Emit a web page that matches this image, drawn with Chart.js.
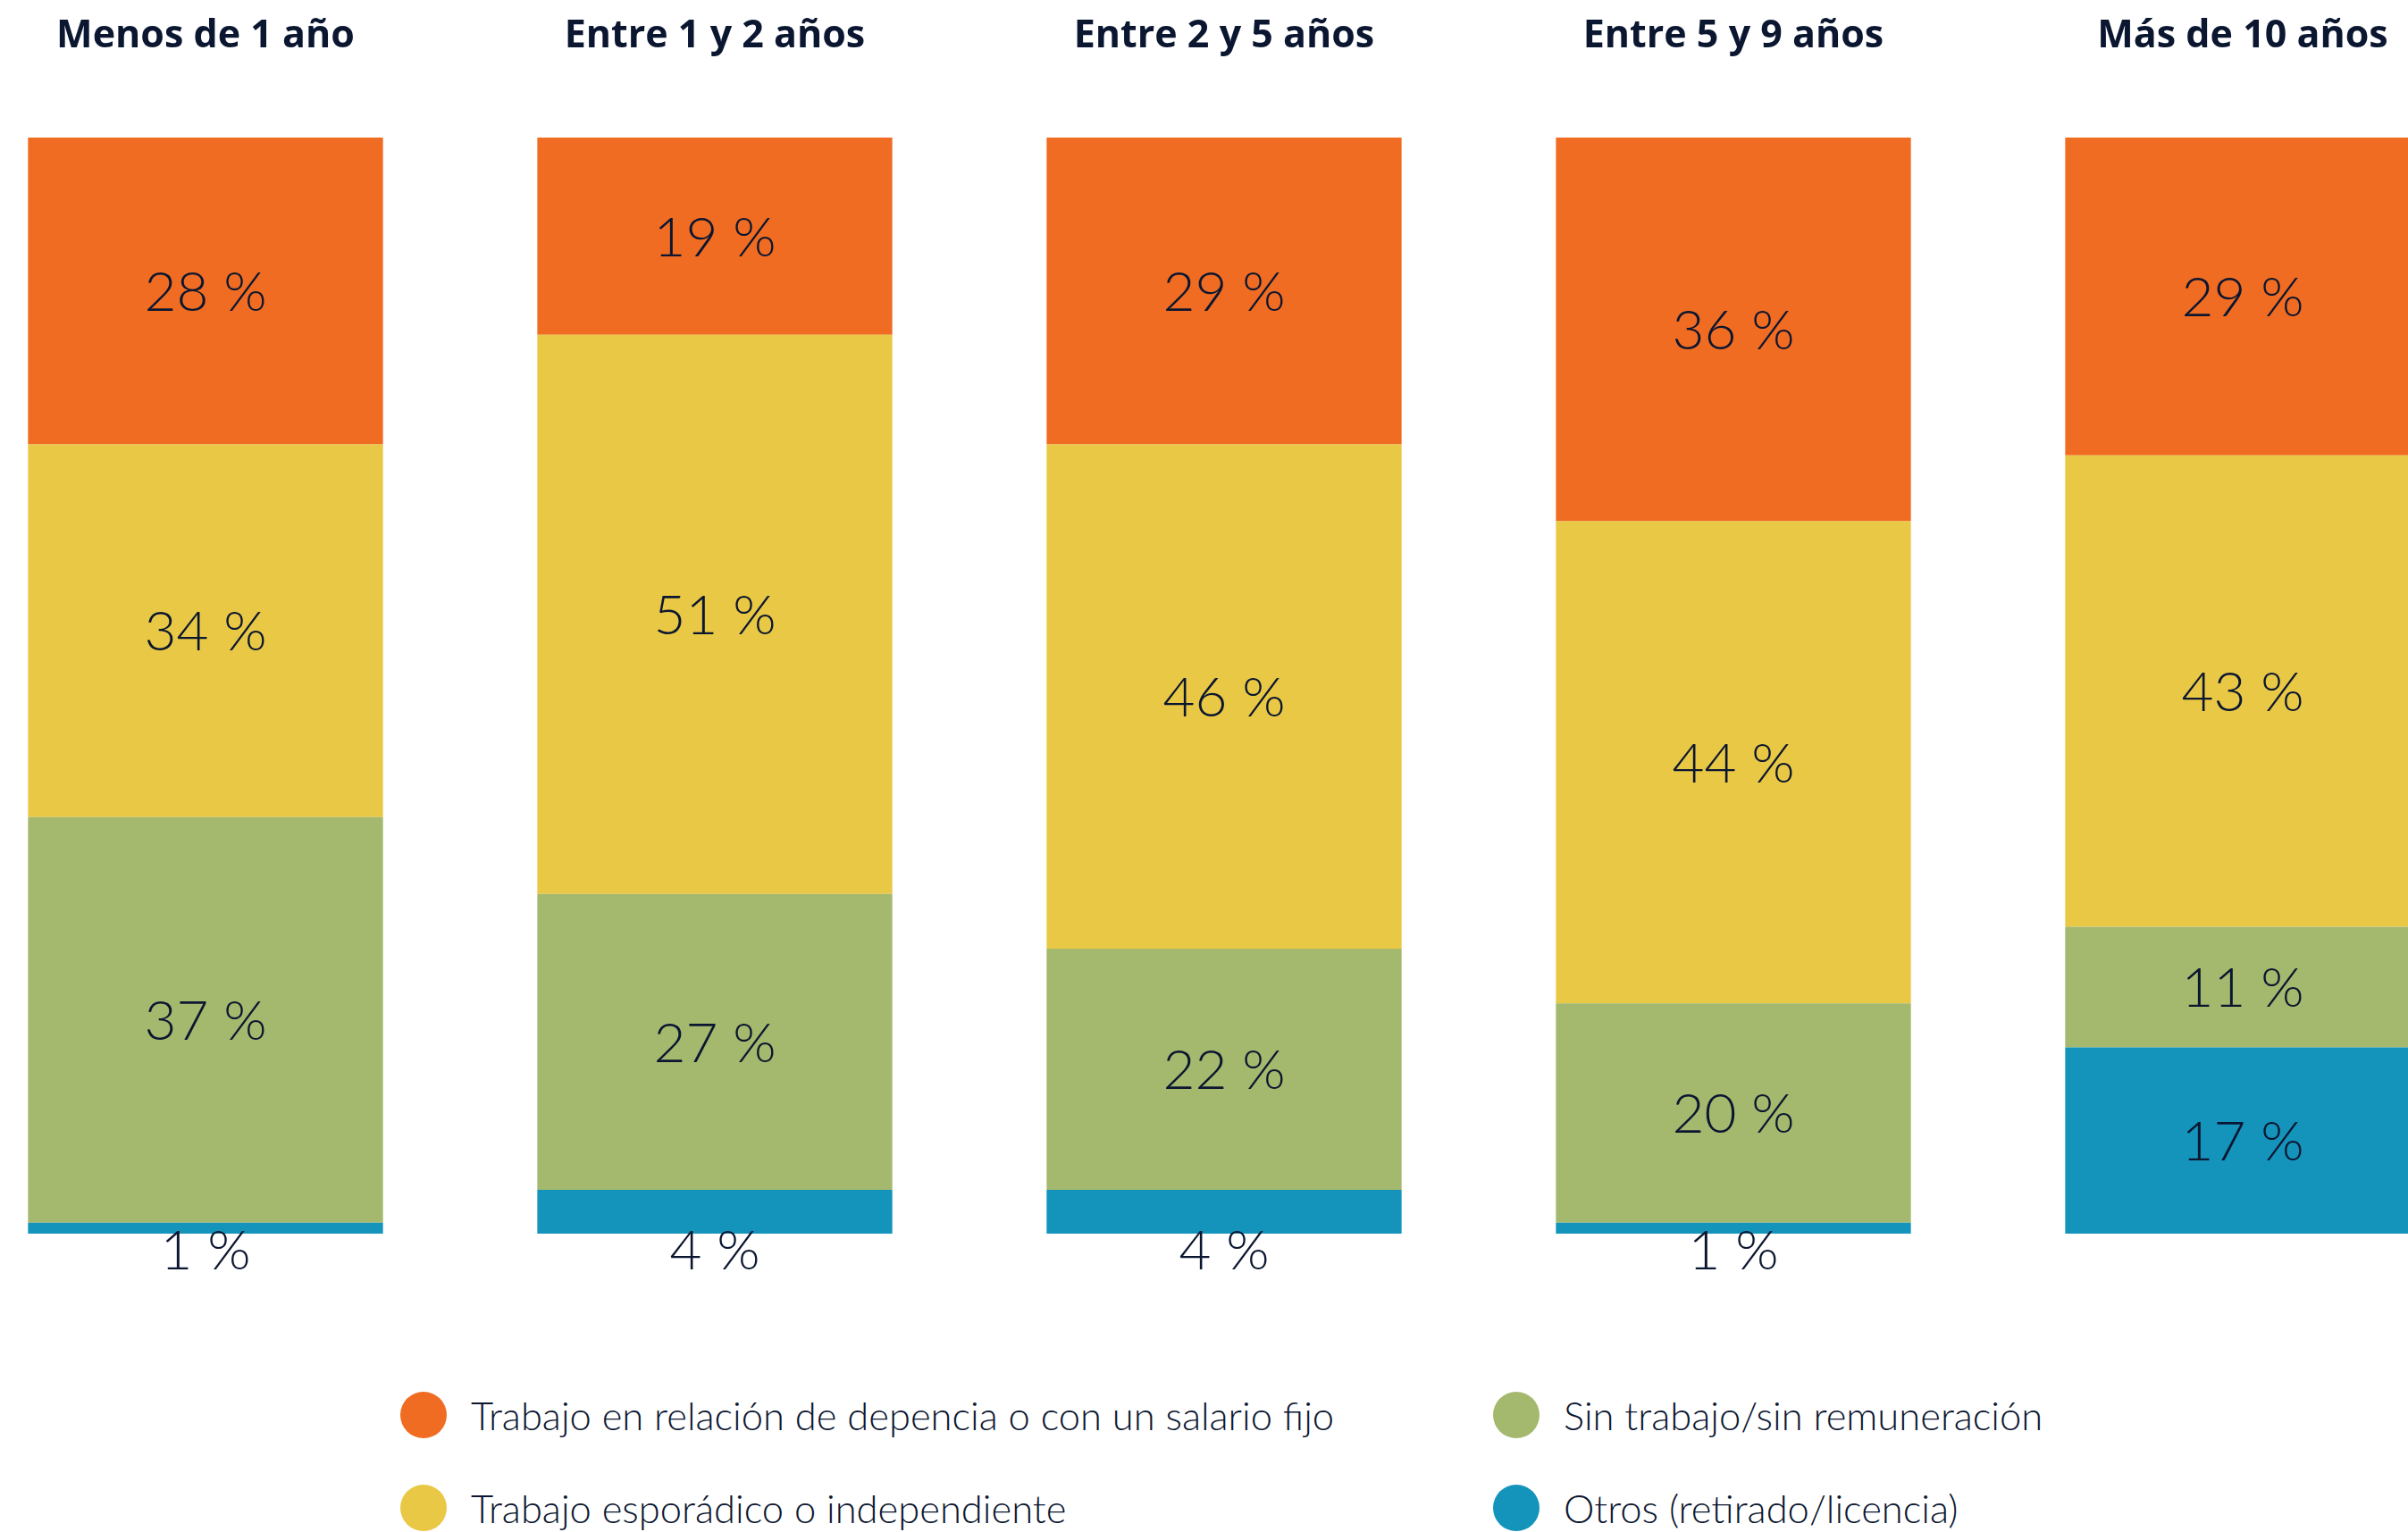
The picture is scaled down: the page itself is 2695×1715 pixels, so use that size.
<!DOCTYPE html>
<html>
<head>
<meta charset="utf-8">
<script src="https://cdn.jsdelivr.net/npm/chart.js@4/dist/chart.umd.min.js"></script>
<style>
  html, body { margin: 0; padding: 0; background: #ffffff; width: 2695px; height: 1715px; overflow: hidden; position: relative; }
  #wrap { position: absolute; left: -55px; top: 0; width: 2850px; height: 1460px; }
  .leg { position: absolute; height: 52px; display: flex; align-items: center; font-family: Lato, sans-serif; font-weight: 300; font-size: 43.5px; color: #0b1630; white-space: nowrap; }
  .dot { width: 52px; height: 52px; border-radius: 50%; margin-right: 27px; flex: none; }
</style>
</head>
<body>
<div id="wrap"><canvas id="c" width="2850" height="1460"></canvas></div>
<div id="legend"></div>
<script>
// ---- data ----
const categories = ["Menos de 1 año", "Entre 1 y 2 años", "Entre 2 y 5 años", "Entre 5 y 9 años", "Más de 10 años"];
const seriesNames = [
  "Trabajo en relación de depencia o con un salario fijo",
  "Trabajo esporádico o independiente",
  "Sin trabajo/sin remuneración",
  "Otros (retirado/licencia)"
];
const dependencia = [28, 19, 29, 36, 29];
const esporadico  = [34, 51, 46, 44, 43];
const sinTrabajo  = [37, 27, 22, 20, 11];
const otros       = [1, 4, 4, 1, 17];
const seriesColors = ["#F06C22", "#E9C845", "#A4B86E", "#1494BB"];

const seriesValues = [dependencia, esporadico, sinTrabajo, otros];
// stacking order bottom -> top
const stackOrder = [3, 2, 1, 0];

const textColor = "#0b1630";

const segLabels = {
  id: "segLabels",
  afterDatasetsDraw(chart) {
    const { ctx, chartArea } = chart;
    const size = 62;
    const capHalf = size * 0.72 / 2;
    ctx.save();
    ctx.font = "300 " + size + "px Lato";
    ctx.fillStyle = textColor;
    ctx.textAlign = "center";
    ctx.textBaseline = "alphabetic";
    chart.data.datasets.forEach((ds, di) => {
      const meta = chart.getDatasetMeta(di);
      meta.data.forEach((bar, i) => {
        const v = ds.data[i];
        const top = Math.max(bar.y, chartArea.top);
        const bottom = bar.base;
        const cy = v < 5 ? bottom + 18 : (top + bottom) / 2;
        ctx.fillText(v + " %", bar.x, cy + capHalf);
      });
    });
    ctx.restore();
  }
};

new Chart(document.getElementById("c"), {
  type: "bar",
  data: {
    labels: categories,
    datasets: stackOrder.map(s => ({
      label: seriesNames[s],
      data: seriesValues[s],
      backgroundColor: seriesColors[s],
      borderWidth: 0,
      categoryPercentage: 1,
      barPercentage: 0.697,
      clip: 0
    }))
  },
  options: {
    responsive: false,
    animation: false,
    maintainAspectRatio: false,
    layout: { padding: { top: 0, bottom: 79, left: 0, right: 0 } },
    plugins: { legend: { display: false }, tooltip: { enabled: false } },
    scales: {
      x: {
        position: "top",
        stacked: true,
        grid: { display: false, drawTicks: false },
        border: { display: false },
        ticks: {
          color: textColor,
          font: { family: "'Open Sans'", weight: "bold", size: 43 },
          padding: 87,
          maxRotation: 0,
          autoSkip: false
        },
        afterFit(scale) { scale.height = 154; }
      },
      y: { stacked: true, display: false, min: 0, max: 100 }
    }
  },
  plugins: [segLabels]
});

// ---- HTML legend (2 columns, column-major) ----
const legendPos = [
  { x: 448, y: 1558 },
  { x: 448, y: 1662 },
  { x: 1671, y: 1558 },
  { x: 1671, y: 1662 }
];
const legend = document.getElementById("legend");
seriesNames.forEach((name, i) => {
  const item = document.createElement("div");
  item.className = "leg";
  item.style.left = legendPos[i].x + "px";
  item.style.top = legendPos[i].y + "px";
  const dot = document.createElement("span");
  dot.className = "dot";
  dot.style.background = seriesColors[i];
  const txt = document.createElement("span");
  txt.textContent = name;
  item.appendChild(dot);
  item.appendChild(txt);
  legend.appendChild(item);
});
</script>
</body>
</html>
